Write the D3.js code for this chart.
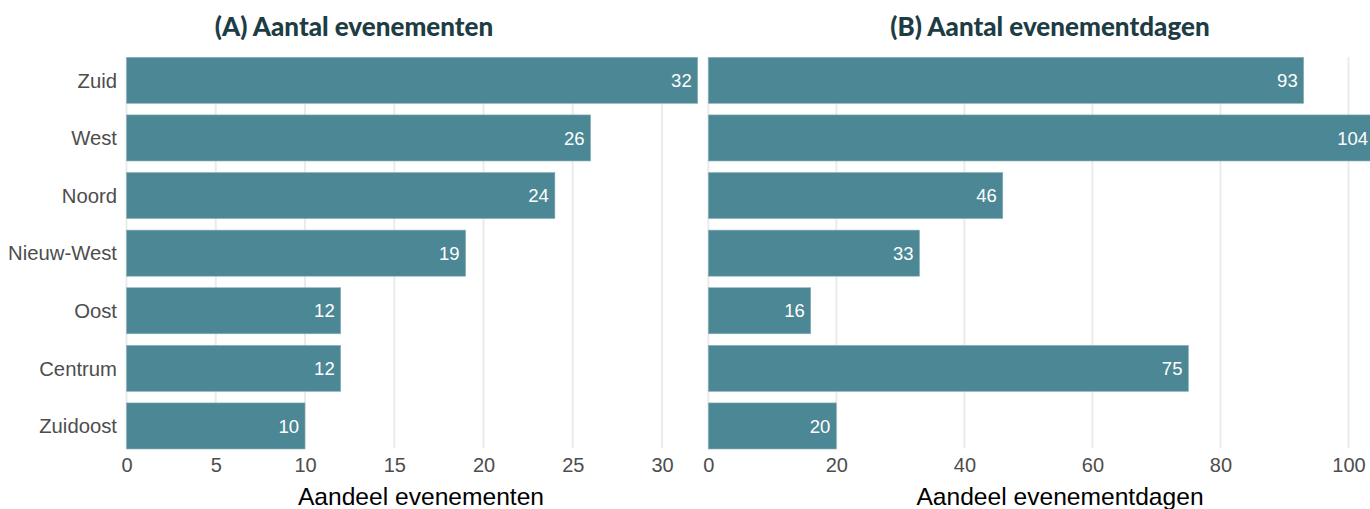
<!DOCTYPE html>
<html>
<head>
<meta charset="utf-8">
<script src="https://cdn.jsdelivr.net/npm/d3@7"></script>
<style>
  body { margin: 0; background: #ffffff; }
  svg { display: block; }
</style>
</head>
<body>
<div id="chart"></div>
<script>
// stadsdelen, top to bottom
const districts = ["Zuid", "West", "Noord", "Nieuw-West", "Oost", "Centrum", "Zuidoost"];
const eventCounts = [32, 26, 24, 19, 12, 12, 10];
const eventDays = [93, 104, 46, 33, 16, 75, 20];
const ticksA = [0, 5, 10, 15, 20, 25, 30];
const ticksB = [0, 20, 40, 60, 80, 100];

const width = 1370, height = 509;
const barColor = "#4b8794";

const svg = d3.select("#chart").append("svg")
    .attr("width", width)
    .attr("height", height);

const yScale = d3.scaleBand()
    .domain(districts)
    .range([57.3, 449])
    .paddingInner(0.2)
    .paddingOuter(0);

// left y labels
svg.append("g")
    .selectAll("text")
    .data(districts)
    .join("text")
    .attr("x", 117)
    .attr("y", d => yScale(d) + yScale.bandwidth() / 2)
    .attr("dy", "0.36em")
    .attr("text-anchor", "end")
    .style("font-family", "Liberation Sans, Arial, sans-serif")
    .style("font-size", "20.3px")
    .style("fill", "#4d4d4d")
    .text(d => d);

function panel(values, ticks, xScale, title, titleX, axisTitle, axisTitleX) {
    const g = svg.append("g");

    // gridlines
    g.selectAll(".grid")
        .data(ticks)
        .join("line")
        .attr("class", "grid")
        .attr("x1", d => xScale(d))
        .attr("x2", d => xScale(d))
        .attr("y1", yScale.range()[0])
        .attr("y2", 448)
        .style("stroke", "#ebebeb")
        .style("stroke-width", 2);

    // bars
    g.selectAll(".bar")
        .data(values)
        .join("rect")
        .attr("class", "bar")
        .attr("x", xScale(0))
        .attr("y", (d, i) => yScale(districts[i]))
        .attr("width", d => xScale(d) - xScale(0))
        .attr("height", yScale.bandwidth())
        .style("fill", barColor)
        .style("stroke", "#8fb3bb")
        .style("stroke-width", 0.6);

    // value labels
    g.selectAll(".val")
        .data(values)
        .join("text")
        .attr("class", "val")
        .attr("x", d => xScale(d) - 6)
        .attr("y", (d, i) => yScale(districts[i]) + yScale.bandwidth() / 2)
        .attr("dy", "0.36em")
        .attr("text-anchor", "end")
        .style("font-family", "Liberation Sans, Arial, sans-serif")
        .style("font-size", "18.5px")
        .style("fill", "#ffffff")
        .text(d => d);

    // x axis tick labels
    const xAxis = d3.axisBottom(xScale).tickValues(ticks).tickSize(0).tickPadding(0);
    const ax = g.append("g")
        .attr("transform", "translate(0,458)")
        .call(xAxis);
    ax.select(".domain").remove();
    ax.selectAll("text")
        .attr("dy", "0.72em")
        .style("font-family", "Liberation Sans, Arial, sans-serif")
        .style("font-size", "20px")
        .style("fill", "#4d4d4d");

    g.append("text")
        .attr("x", axisTitleX)
        .attr("y", 505)
        .attr("text-anchor", "middle")
        .style("font-family", "Liberation Sans, Arial, sans-serif")
        .style("font-size", "24.6px")
        .style("fill", "#000000")
        .text(axisTitle);

    g.append("text")
        .attr("x", titleX)
        .attr("y", 36)
        .attr("text-anchor", "middle")
        .style("font-family", "Lato, sans-serif")
        .style("font-weight", 900)
        .style("font-size", "26px")
        .style("fill", "#1e3c44")
        .text(title);
}

const xA = d3.scaleLinear().domain([0, 32]).range([126.5, 697.7]);
const xB = d3.scaleLinear().domain([0, 100]).range([708.3, 1348.5]);

panel(eventCounts, ticksA, xA, "(A) Aantal evenementen", 354, "Aandeel evenementen", 421);
panel(eventDays, ticksB, xB, "(B) Aantal evenementdagen", 1050, "Aandeel evenementdagen", 1060);
</script>
</body>
</html>
